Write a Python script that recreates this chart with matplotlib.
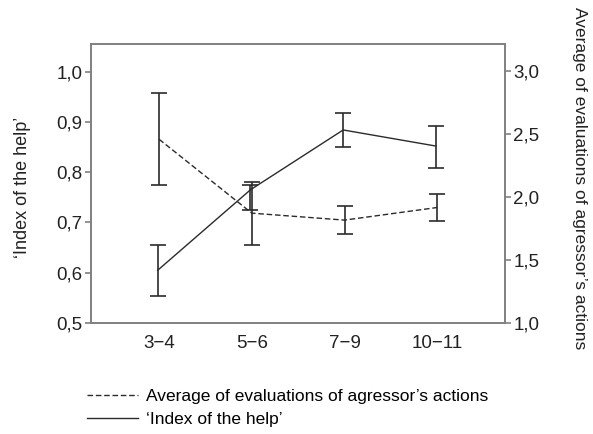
import numpy as np
import matplotlib.pyplot as plt
from matplotlib.ticker import FuncFormatter
from matplotlib.lines import Line2D

plt.rcParams['font.family'] = ['Liberation Sans', 'DejaVu Sans']

groups = ['3\u22124', '5\u22126', '7\u22129', '10\u221211']
help_idx = [0.605, 0.765, 0.884, 0.852]
help_err_lo = [0.052, 0.040, 0.034, 0.043]
help_err_hi = [0.050, 0.010, 0.033, 0.040]
aggr_avg = [2.455, 1.870, 1.815, 1.915]
aggr_err = [0.365, 0.250, 0.110, 0.110]

col = '#2b2b2b'
dash = (0, (4, 2))
x = np.arange(len(groups))

fig = plt.figure(figsize=(5.93, 4.34), dpi=100)
ax = fig.add_axes([0.1535, 0.2558, 0.698, 0.6428])
ax2 = ax.twinx()

ax.errorbar(x - 0.015, help_idx, yerr=[help_err_lo, help_err_hi], color=col, lw=1.0,
            capsize=6, elinewidth=1.2, capthick=1.2, ls='-')
ax2.errorbar(x, aggr_avg, yerr=aggr_err, color=col, lw=1.0,
             capsize=6, elinewidth=1.2, capthick=1.2, ls=dash)

ax.set_xlim(-0.735, 3.73)
ax.set_ylim(0.5, 1.055)
ax2.set_ylim(1.0, 3.21)
ax.set_yticks([0.5, 0.6, 0.7, 0.8, 0.9, 1.0])
ax2.set_yticks([1.0, 1.5, 2.0, 2.5, 3.0])
fmt = FuncFormatter(lambda v, p: ('%.1f' % v).replace('.', ','))
ax.yaxis.set_major_formatter(fmt)
ax2.yaxis.set_major_formatter(fmt)
ax.set_xticks(x)
ax.set_xticklabels(groups)

for a in (ax, ax2):
    for s in a.spines.values():
        s.set_color('#808080')
        s.set_linewidth(1.2)
    a.tick_params(labelsize=13.5, colors='#808080', labelcolor='#222222', length=4.5, width=1.2, pad=1.5)
ax.tick_params(axis='x', length=0, pad=9)

ax.set_ylabel('\u2018Index of the help\u2019', fontsize=13, color='#222222', va='center')
ax.yaxis.set_label_coords(-0.165, 0.485)
ax2.set_ylabel('Average of evaluations of agressor\u2019s actions', fontsize=12.5,
               color='#222222', rotation=270, va='center', ha='center')
ax2.yaxis.set_label_coords(1.181, 0.52)

h1 = Line2D([], [], color=col, lw=1.0, ls=dash)
h2 = Line2D([], [], color=col, lw=1.0)
fig.legend([h1, h2], ['Average of evaluations of agressor\u2019s actions', '\u2018Index of the help\u2019'],
           loc='upper left', bbox_to_anchor=(0.147, 0.104), borderpad=0, borderaxespad=0,
           frameon=False, fontsize=12.5, handlelength=2.9, handletextpad=0.5, labelspacing=0.45)

plt.savefig('out.png', dpi=100)
